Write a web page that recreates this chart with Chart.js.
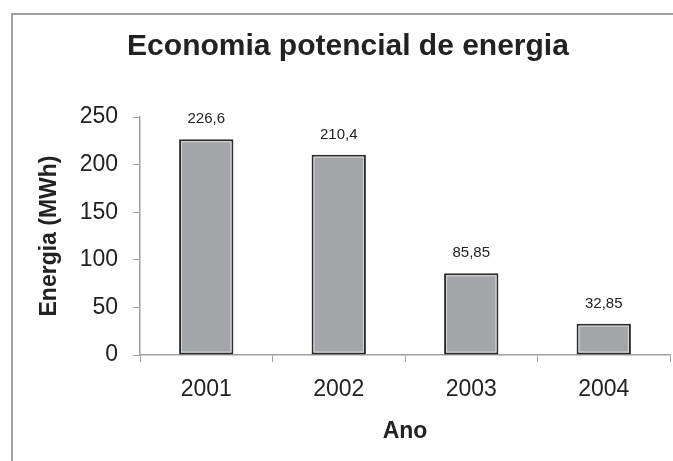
<!DOCTYPE html>
<html>
<head>
<meta charset="utf-8">
<script src="https://cdn.jsdelivr.net/npm/chart.js@4.4.1/dist/chart.umd.min.js"></script>
<style>
  body { margin: 0; background: #fff; }
  #wrap { position: relative; width: 673px; height: 461px; overflow: hidden; }
  #frame { position: absolute; left: 11px; top: 13px; width: 700px; height: 500px;
           border-top: 2px solid #a0a0a0; border-left: 2px solid #a0a0a0; }
  #chart1 { position: absolute; left: 0; top: 0; }
</style>
</head>
<body>
<div id="wrap">
  <div id="frame"></div>
  <canvas id="chart1" width="673" height="461"></canvas>
</div>
<script>
var anos = ['2001', '2002', '2003', '2004'];
var energia = [226.6, 210.4, 85.85, 32.85];
var rotulos = ['226,6', '210,4', '85,85', '32,85'];

var fonte = "'Liberation Sans', Arial, sans-serif";

// white inner line on each bar + value above it
var barLabels = {
	id: 'barLabels',
	afterDatasetsDraw: function(chart) {
		var ctx = chart.ctx;
		var meta = chart.getDatasetMeta(0);
		ctx.save();
		meta.data.forEach(function(bar, i) {
			var left = bar.x - bar.width / 2;
			var top = Math.min(bar.y, bar.base);
			var h = Math.abs(bar.base - bar.y);
			ctx.strokeStyle = '#d6d7d9';
			ctx.lineWidth = 1;
			ctx.strokeRect(left + 2.5, top + 2.5, bar.width - 5, h - 5);

			ctx.fillStyle = '#222';
			ctx.font = '15px ' + fonte;
			ctx.textAlign = 'center';
			ctx.textBaseline = 'alphabetic';
			ctx.fillText(rotulos[i], bar.x, top - 16);
		});
		ctx.restore();
	}
};

var chartdata = {
	labels: anos,
	datasets: [
		{
			label: 'Energia',
			data: energia,
			backgroundColor: '#a3a5a8',
			borderColor: '#2b2b2b',
			borderWidth: 2,
			borderSkipped: false,
			barPercentage: 0.41,
			categoryPercentage: 1
		}
	]
};

var barGraph = new Chart(document.getElementById('chart1'), {
	type: 'bar',
	data: chartdata,
	plugins: [barLabels],
	options: {
		responsive: false,
		animation: false,
		devicePixelRatio: 1,
		layout: { padding: { left: 26, right: 3, top: 0, bottom: 0 } },
		plugins: {
			legend: { display: false },
			tooltip: { enabled: false },
			title: {
				display: true,
				text: 'Economia potencial de energia',
				color: '#222',
				font: { family: fonte, size: 30, weight: 'bold' },
				padding: { top: 29, bottom: 52 }
			}
		},
		scales: {
			x: {
				afterFit: function(scale) { scale.height = 106; },
				grid: { drawOnChartArea: false, tickLength: 7, color: '#a0a0a0', offset: true },
				border: { color: '#a0a0a0', width: 1.5 },
				ticks: { color: '#222', padding: 14, font: { family: fonte, size: 23 } },
				title: {
					display: true,
					text: 'Ano',
					color: '#222',
					font: { family: fonte, size: 23, weight: 'bold' },
					padding: { top: 0, bottom: 16 }
				}
			},
			y: {
				min: 0,
				max: 250,
				afterFit: function(scale) { scale.width = 114; },
				grid: { drawOnChartArea: false, tickLength: 7, color: '#a0a0a0' },
				border: { color: '#a0a0a0', width: 1.5 },
				ticks: { stepSize: 50, color: '#222', padding: 15, font: { family: fonte, size: 23 } },
				title: {
					display: true,
					text: 'Energia (MWh)',
					color: '#222',
					font: { family: fonte, size: 23, weight: 'bold' },
					padding: { top: 10, bottom: 0 }
				}
			}
		}
	}
});
</script>
</body>
</html>
